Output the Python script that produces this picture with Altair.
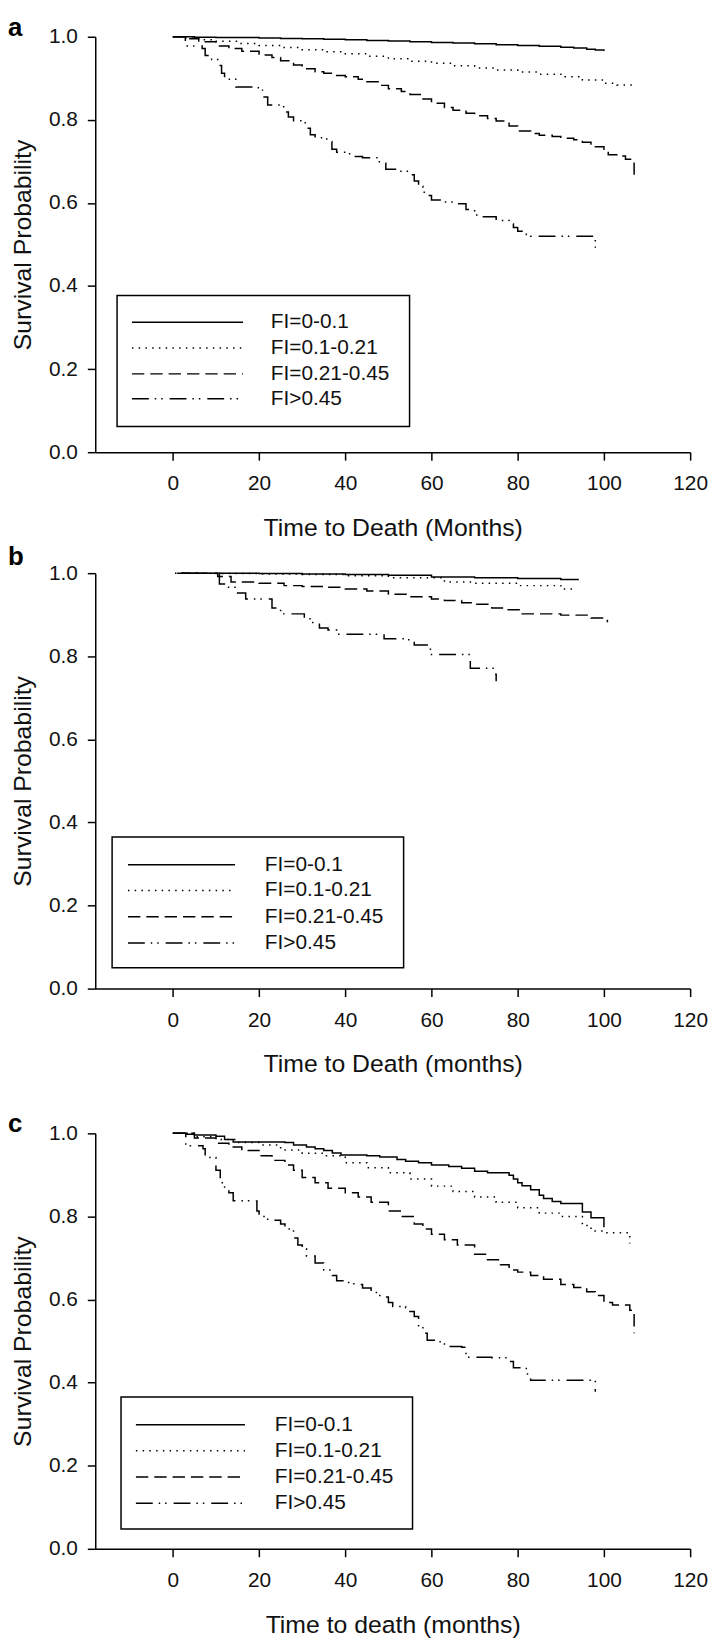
import altair as alt
import pandas as pd

# ---------------- data ----------------
GROUPS = ["FI=0-0.1", "FI=0.1-0.21", "FI=0.21-0.45", "FI>0.45"]
X_TICKS = [0, 20, 40, 60, 80, 100, 120]
Y_TICKS = [0.0, 0.2, 0.4, 0.6, 0.8, 1.0]
PANEL_LETTERS = ["a", "b", "c"]
X_TITLES = ["Time to Death (Months)", "Time to Death (months)", "Time to death (months)"]
Y_TITLE = "Survival Probability"

# panel a
A1_T = [0, 5, 10, 15, 20, 25, 30, 35, 40, 45, 50, 55, 60, 65, 70, 75, 80, 85, 90, 93, 96, 98, 100]
A1_S = [1.0, 0.999, 0.998, 0.998, 0.997, 0.996, 0.995, 0.994, 0.993, 0.991, 0.990, 0.988, 0.986,
        0.985, 0.983, 0.981, 0.979, 0.977, 0.975, 0.973, 0.970, 0.968, 0.966]
A2_T = [0, 3, 6, 10, 15, 20, 25, 30, 35, 40, 45, 50, 55, 60, 65, 70, 75, 80, 85, 90, 95, 100, 103, 106.5]
A2_S = [1.0, 0.997, 0.993, 0.989, 0.984, 0.979, 0.974, 0.969, 0.964, 0.959, 0.953, 0.947, 0.941,
        0.936, 0.930, 0.925, 0.920, 0.915, 0.910, 0.904, 0.896, 0.888, 0.884, 0.881]
A3_T = [0, 3, 6, 10, 13, 16, 20, 23, 25, 28, 30, 33, 35, 38, 40, 43, 45, 48, 50, 53, 55, 58, 60, 63,
        65, 68, 70, 73, 75, 78, 80, 83, 85, 88, 90, 93, 95, 97, 98, 100, 101, 104, 105, 107, 107]
A3_S = [1.0, 0.995, 0.988, 0.978, 0.972, 0.965, 0.956, 0.950, 0.942, 0.932, 0.923, 0.916, 0.912,
        0.907, 0.904, 0.898, 0.892, 0.883, 0.875, 0.868, 0.861, 0.850, 0.840, 0.830, 0.823, 0.816,
        0.810, 0.803, 0.797, 0.785, 0.773, 0.767, 0.763, 0.760, 0.756, 0.752, 0.746, 0.742, 0.735,
        0.724, 0.716, 0.713, 0.705, 0.705, 0.659]
A4_T = [0, 2.9, 6.8, 7.5, 9, 10.8, 11.3, 12, 14.6, 19, 20.8, 22, 25.7, 26.8, 28, 30.7, 31.9, 33,
        35.7, 36.9, 38, 41, 44, 47.9, 49.4, 52, 54.8, 56, 57, 58, 59, 60, 62, 65, 68, 70, 72, 75,
        78, 79, 80, 82, 83, 98, 98]
A4_S = [1.0, 0.978, 0.972, 0.955, 0.945, 0.931, 0.912, 0.898, 0.879, 0.877, 0.855, 0.836, 0.819,
        0.807, 0.798, 0.780, 0.764, 0.757, 0.748, 0.729, 0.722, 0.712, 0.709, 0.696, 0.681, 0.676,
        0.668, 0.653, 0.640, 0.626, 0.618, 0.607, 0.602, 0.598, 0.584, 0.571, 0.567, 0.558, 0.550,
        0.541, 0.532, 0.524, 0.520, 0.520, 0.490]

# panel b
B1_T = [2, 10, 20, 30, 40, 50, 60, 70, 80, 90, 94]
B1_S = [1.0, 1.0, 0.999, 0.998, 0.997, 0.995, 0.991, 0.989, 0.987, 0.985, 0.983]
B2_T = [0.5, 10, 20, 30, 40, 50, 63, 70, 80, 90, 93.2]
B2_S = [1.0, 0.999, 0.998, 0.997, 0.994, 0.989, 0.979, 0.976, 0.970, 0.962, 0.956]
B3_T = [1, 10.4, 13.5, 20, 25.8, 30, 35, 40, 45, 50, 55, 60, 63, 67, 70, 74, 77.5, 81, 90, 97, 100.8]
B3_S = [1.0, 0.992, 0.979, 0.976, 0.970, 0.968, 0.966, 0.962, 0.957, 0.949, 0.943, 0.938, 0.934,
        0.929, 0.925, 0.916, 0.912, 0.902, 0.899, 0.892, 0.882]
B4_T = [2, 10.8, 12.3, 14.6, 16.9, 23, 25, 30.5, 32, 34, 36, 38, 49, 54, 56, 59, 60, 69, 74.5, 75]
B4_S = [1.0, 0.974, 0.966, 0.952, 0.938, 0.916, 0.902, 0.890, 0.881, 0.868, 0.863, 0.853, 0.842,
        0.840, 0.827, 0.817, 0.804, 0.771, 0.757, 0.740]

# panel c
C1_T = [0, 3, 5, 10, 12, 14, 26, 28, 31, 33, 35, 37, 39, 45, 48, 52, 54, 57, 60, 64, 67, 70, 73,
        78, 79, 80, 81, 83, 85, 86, 88, 90, 95, 97, 100, 100]
C1_S = [1.0, 0.998, 0.996, 0.993, 0.985, 0.979, 0.978, 0.972, 0.967, 0.963, 0.959, 0.953, 0.948,
        0.946, 0.943, 0.937, 0.933, 0.929, 0.924, 0.920, 0.916, 0.909, 0.905, 0.899, 0.890, 0.881,
        0.874, 0.864, 0.851, 0.843, 0.836, 0.831, 0.811, 0.797, 0.797, 0.774]
C2_T = [0, 5, 10, 15, 20, 25, 30, 35, 40, 45, 50, 55, 60, 65, 70, 75, 80, 85, 90, 95, 97, 100,
        105, 106, 106]
C2_S = [1.0, 0.992, 0.985, 0.978, 0.972, 0.960, 0.952, 0.946, 0.929, 0.917, 0.905, 0.890, 0.873,
        0.860, 0.847, 0.834, 0.821, 0.808, 0.800, 0.778, 0.765, 0.761, 0.761, 0.761, 0.735]
C3_T = [0, 5, 10, 13, 16, 20, 23, 26, 28, 30, 33, 36, 40, 43, 46, 50, 53, 56, 58, 60, 63, 66, 70,
        73, 76, 78, 80, 83, 86, 90, 93, 96, 98, 100, 102, 106, 107, 107]
C3_S = [1.0, 0.989, 0.976, 0.967, 0.959, 0.946, 0.935, 0.924, 0.911, 0.894, 0.881, 0.868, 0.857,
        0.847, 0.834, 0.813, 0.800, 0.782, 0.770, 0.757, 0.744, 0.731, 0.709, 0.696, 0.684, 0.671,
        0.666, 0.658, 0.649, 0.636, 0.629, 0.619, 0.610, 0.593, 0.587, 0.574, 0.574, 0.519]
C4_T = [0, 3, 7, 7.5, 10, 11, 12, 13, 14, 19, 19.5, 20, 22, 25, 26, 28, 29, 30, 31, 33, 35, 37,
        38, 40, 42, 44, 46, 48, 50, 51, 54, 55, 56, 57, 58, 59, 62, 63, 67, 68, 74, 78, 79, 82,
        83, 98, 98]
C4_S = [1.0, 0.970, 0.963, 0.942, 0.911, 0.881, 0.864, 0.857, 0.838, 0.837, 0.813, 0.800, 0.791,
        0.782, 0.770, 0.748, 0.731, 0.722, 0.705, 0.688, 0.671, 0.658, 0.645, 0.641, 0.636, 0.628,
        0.617, 0.606, 0.593, 0.583, 0.580, 0.571, 0.559, 0.537, 0.519, 0.502, 0.496, 0.487, 0.485,
        0.461, 0.460, 0.451, 0.436, 0.421, 0.406, 0.406, 0.378]

PANELS = [
    [(A1_T, A1_S), (A2_T, A2_S), (A3_T, A3_S), (A4_T, A4_S)],
    [(B1_T, B1_S), (B2_T, B2_S), (B3_T, B3_S), (B4_T, B4_S)],
    [(C1_T, C1_S), (C2_T, C2_S), (C3_T, C3_S), (C4_T, C4_S)],
]

# ---------------- styling ----------------
FONT = "Liberation Sans"
INK = "#111111"
W, H = 600, 419
DASHES = [[1, 0], [1.5, 5.3], [12.5, 6], [17, 6, 1.5, 5, 1.5, 7]]
LINE_W = 1.5

# legend box geometry in pixels relative to each plot area:
# (box left, box right, box top, box bottom, line x1, line x2, text x, row ys)
LEGEND_STYLE = [
    (22, 317, 261, 393, 37, 149, 177, [288, 314, 340, 365]),
    (17, 311, 266, 398, 33, 141, 171, [294, 320, 346.5, 373]),
    (26, 320, 266, 399, 41, 151, 181, [294, 320, 346.5, 373]),
]
# panel letter placement (pixels relative to plot area top-left, alphabetic baseline)
LETTER_X = -88
LETTER_Y = [-0.3, -8, -1.3]


def panel_df(series):
    rows = []
    for g, (ts, ss) in zip(GROUPS, series):
        for i, (t, s) in enumerate(zip(ts, ss)):
            rows.append({"group": g, "t": t, "s": s, "order": i})
    return pd.DataFrame(rows)


def make_panel(k):
    df = panel_df(PANELS[k])
    x = alt.X(
        "t:Q",
        scale=alt.Scale(domain=[-18, 120], nice=False, zero=False),
        axis=alt.Axis(values=X_TICKS, title=X_TITLES[k], labelFlush=False,
                      labelPadding=13, titlePadding=22),
    )
    y = alt.Y(
        "s:Q",
        scale=alt.Scale(domain=[0, 1], nice=False),
        axis=alt.Axis(values=Y_TICKS, format=".1f", title=Y_TITLE, labelFlush=False,
                      labelPadding=10, titleX=-60, titleY=H / 2, titleBaseline="bottom",
                      titleAngle=270),
    )
    lines = alt.Chart(df).mark_line(
        interpolate="step-after", color="black", strokeWidth=LINE_W
    ).encode(
        x=x,
        y=y,
        strokeDash=alt.StrokeDash("group:N", scale=alt.Scale(domain=GROUPS, range=DASHES), legend=None),
        detail="group:N",
        order="order:Q",
    )

    bl, br, bt, bb, lx1, lx2, tx, rys = LEGEND_STYLE[k]
    one = alt.Chart(pd.DataFrame({"k": [0]}))
    layers = [lines]
    layers.append(
        one.mark_rect(filled=False, stroke="black", strokeWidth=1.5).encode(
            x=alt.value(bl), x2=alt.value(br), y=alt.value(bt), y2=alt.value(bb)
        )
    )
    for g, dash, ry in zip(GROUPS, DASHES, rys):
        layers.append(
            one.mark_rule(color="black", strokeWidth=LINE_W, strokeDash=dash).encode(
                x=alt.value(lx1), x2=alt.value(lx2), y=alt.value(ry)
            )
        )
        layers.append(
            one.mark_text(align="left", baseline="middle", fontSize=21, font=FONT, color=INK).encode(
                x=alt.value(tx), y=alt.value(ry), text=alt.value(g)
            )
        )
    layers.append(
        one.mark_text(align="left", baseline="alphabetic", fontSize=26, fontWeight="bold",
                      font=FONT, color="black").encode(
            x=alt.value(LETTER_X), y=alt.value(LETTER_Y[k]), text=alt.value(PANEL_LETTERS[k])
        )
    )
    return alt.layer(*layers).properties(width=W, height=H)


pa, pb, pc = (make_panel(i) for i in range(3))

chart = alt.vconcat(
    alt.vconcat(pa, pb, spacing=4),
    pc,
    spacing=34,
).properties(
    padding={"left": 0, "top": 0, "right": 0, "bottom": 0}
).configure_axis(
    domainColor="black", domainWidth=1.5, tickColor="black", tickWidth=1.5, tickSize=8,
    labelFont=FONT, labelFontSize=21, labelColor=INK,
    titleFont=FONT, titleFontSize=25, titleFontWeight="normal", titleColor=INK,
    grid=False,
).configure_view(stroke=None)

chart.save("out.html", embed_options={"renderer": "svg", "actions": False})
